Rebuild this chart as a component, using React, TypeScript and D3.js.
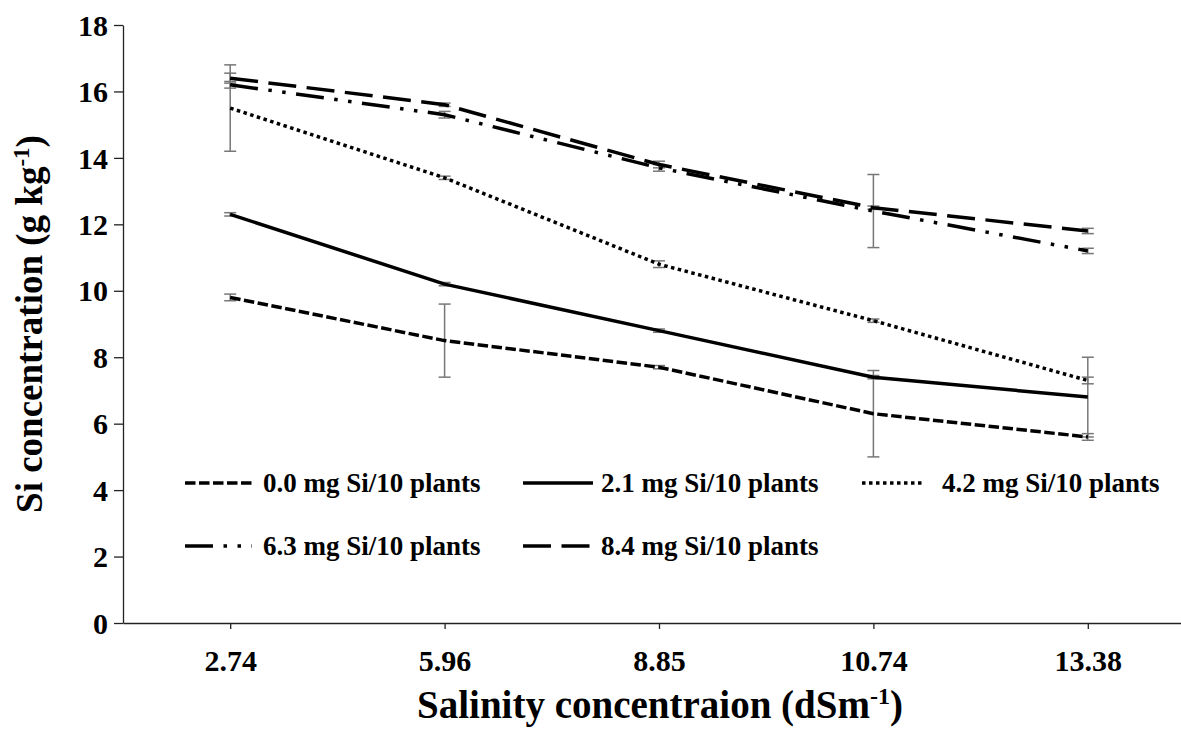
import React, { useEffect, useRef } from 'react';
import * as d3 from 'd3';

// salinity levels (dS m-1)
const salinity = ['2.74', '5.96', '8.85', '10.74', '13.38'];
const yTicks = [0, 2, 4, 6, 8, 10, 12, 14, 16, 18];

const si00 = [9.8, 8.5, 7.7, 6.3, 5.6];
const si00Err = [0.1, 1.1, 0.05, 1.3, 0.1];
const si21 = [12.3, 10.2, 8.8, 7.4, 6.8];
const si21Err = [0.05, 0.05, 0.05, 0.05, 1.2];
const si42 = [15.5, 13.4, 10.8, 9.1, 7.3];
const si42Err = [1.3, 0.05, 0.1, 0.05, 0.1];
const si63 = [16.2, 15.3, 13.7, 12.4, 11.2];
const si63Err = [0.1, 0.1, 0.1, 1.1, 0.08];
const si84 = [16.4, 15.6, 13.8, 12.5, 11.8];
const si84Err = [0.15, 0.05, 0.1, 0.05, 0.08];

const seriesNames = [
  '0.0 mg Si/10 plants',
  '2.1 mg Si/10 plants',
  '4.2 mg Si/10 plants',
  '6.3 mg Si/10 plants',
  '8.4 mg Si/10 plants',
];

const FONT = "'Liberation Serif', 'Times New Roman', Times, 'DejaVu Serif', serif";
const SW = 3.5;
const dashes = [
  `${3 * SW},${SW}`,
  null,
  `${SW},${SW}`,
  `${8 * SW},${3 * SW},${SW},${3 * SW},${SW},${3 * SW}`,
  `${8 * SW},${3 * SW}`,
];

const App = () => {
  const svgRef = useRef(null);

  useEffect(() => {
    const W = 1181;
    const H = 729;
    const left = 123;
    const right = 1195;
    const top = 25;
    const bottom = 623;

    const svg = d3.select(svgRef.current);
    svg.selectAll('*').remove();
    svg.attr('width', W).attr('height', H).style('background', '#fff');

    const x = d3.scalePoint().domain(salinity).range([left, right]).padding(0.5);
    const y = d3.scaleLinear().domain([0, 18]).range([bottom, top]);

    const data = [
      { name: seriesNames[0], values: si00, err: si00Err, dash: dashes[0] },
      { name: seriesNames[1], values: si21, err: si21Err, dash: dashes[1] },
      { name: seriesNames[2], values: si42, err: si42Err, dash: dashes[2] },
      { name: seriesNames[3], values: si63, err: si63Err, dash: dashes[3] },
      { name: seriesNames[4], values: si84, err: si84Err, dash: dashes[4] },
    ];

    const styleText = sel => sel
      .attr('fill', '#000')
      .attr('font-family', FONT)
      .attr('font-weight', 'bold');

    // y axis
    const yAxis = svg.append('g')
      .attr('transform', `translate(${left},0)`)
      .call(d3.axisLeft(y).tickValues(yTicks).tickSize(9).tickSizeOuter(0).tickPadding(6));
    yAxis.attr('font-family', null).attr('font-size', null);
    yAxis.select('.domain').attr('stroke', '#222').attr('stroke-width', 1.3);
    yAxis.selectAll('.tick line').attr('stroke', '#222').attr('stroke-width', 1.3);
    yAxis.selectAll('.tick text').call(styleText).attr('font-size', 30).attr('dy', '0.34em');

    // x axis
    const xAxis = svg.append('g')
      .attr('transform', `translate(0,${bottom})`)
      .call(d3.axisBottom(x).tickSize(6).tickSizeOuter(0).tickPadding(21));
    xAxis.attr('font-family', null).attr('font-size', null);
    xAxis.select('.domain').attr('stroke', '#222').attr('stroke-width', 1.3);
    xAxis.selectAll('.tick line').attr('stroke', '#222').attr('stroke-width', 1.3);
    xAxis.selectAll('.tick text').call(styleText).attr('font-size', 30);

    // error bars
    const errG = svg.append('g');
    data.forEach(s => {
      s.values.forEach((v, i) => {
        const cx = x(salinity[i]);
        const e = s.err[i];
        const g = errG.append('g').attr('stroke', '#777').attr('stroke-width', 1.5);
        g.append('line').attr('x1', cx).attr('x2', cx).attr('y1', y(v - e)).attr('y2', y(v + e));
        g.append('line').attr('x1', cx - 6).attr('x2', cx + 6).attr('y1', y(v - e)).attr('y2', y(v - e));
        g.append('line').attr('x1', cx - 6).attr('x2', cx + 6).attr('y1', y(v + e)).attr('y2', y(v + e));
      });
    });

    // lines
    const lineGen = d3.line()
      .x((d, i) => x(salinity[i]))
      .y(d => y(d));

    data.forEach(s => {
      svg.append('path')
        .datum(s.values)
        .attr('fill', 'none')
        .attr('stroke', '#000')
        .attr('stroke-width', SW)
        .attr('stroke-dasharray', s.dash)
        .attr('d', lineGen);
    });

    // legend
    const colX = [185, 523, 862];
    const rowY = [483, 546];
    const lineLen = [67, 70, 60, 67, 70];
    data.forEach((s, i) => {
      const lx = colX[i % 3];
      const ly = rowY[Math.floor(i / 3)];
      const g = svg.append('g');
      g.append('line')
        .attr('x1', lx).attr('x2', lx + lineLen[i])
        .attr('y1', ly).attr('y2', ly)
        .attr('stroke', '#000')
        .attr('stroke-width', SW)
        .attr('stroke-dasharray', s.dash);
      g.append('text')
        .attr('x', i === 2 ? lx + 80 : lx + 78)
        .attr('y', ly + 9)
        .call(styleText)
        .attr('font-size', 27)
        .text(s.name);
    });

    // axis titles
    const yTitle = svg.append('text')
      .attr('transform', `translate(42,${(top + bottom) / 2}) rotate(-90)`)
      .attr('text-anchor', 'middle')
      .call(styleText)
      .attr('font-size', 37);
    yTitle.append('tspan').text('Si concentration (g kg');
    yTitle.append('tspan').attr('dy', -13).attr('font-size', 23).text('-1');
    yTitle.append('tspan').attr('dy', 13).text(')');

    const xTitle = svg.append('text')
      .attr('x', (left + right) / 2 + 1)
      .attr('y', 718)
      .attr('text-anchor', 'middle')
      .call(styleText)
      .attr('font-size', 39);
    xTitle.append('tspan').text('Salinity concentraion (dSm');
    xTitle.append('tspan').attr('dy', -14).attr('font-size', 24).text('-1');
    xTitle.append('tspan').attr('dy', 14).text(')');
  }, []);

  return (
    <div style={{ position: 'absolute', left: 0, top: 0 }}>
      <svg ref={svgRef} style={{ display: 'block' }}></svg>
    </div>
  );
};

export default App;
